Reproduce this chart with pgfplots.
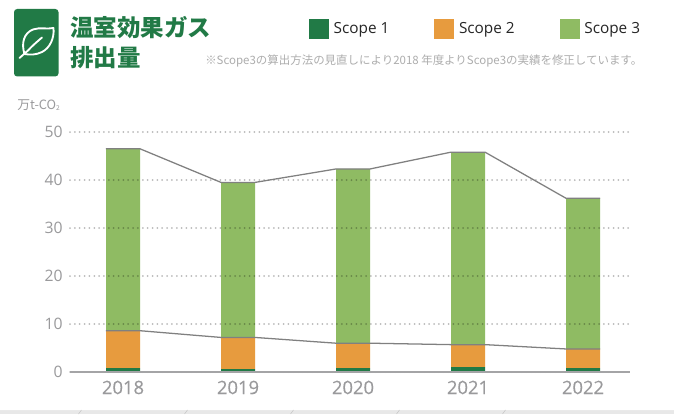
\documentclass[border=0pt]{standalone}
\usepackage{pgfplots}
\pgfplotsset{compat=1.18}
\usepackage{fontspec}
\setmainfont{Open Sans}
\newfontfamily\jp{Noto Sans CJK JP}
\newfontfamily\semi[FakeBold=0.35]{Open Sans}
\definecolor{sone}{HTML}{217A46}
\definecolor{stwo}{HTML}{E79B3E}
\definecolor{sthree}{HTML}{8FBB63}
\definecolor{lab}{HTML}{9A9A9C}
\definecolor{conn}{HTML}{808080}
\pgfplotstableread{
x s1 s2 s3
0 0.8 7.8 37.9
1 0.6 6.6 32.3
2 0.8 5.2 36.3
3 1.0 4.7 40.1
4 0.8 4.0 31.4
}\stacktable
\begin{document}
\begin{tikzpicture}
\begin{scope}[x=0.75pt,y=-0.75pt,shift={(0,310.5pt)}]
\useasboundingbox (0,0) rectangle (674,414);
\fill[white] (0,0) rectangle (674,414);
\fill[black!9] (0,408) rectangle (674,414);
\fill[white,rounded corners=3pt] (-10,-10) rectangle (684,410);
\foreach \t in {80,186,292,398,504} \draw[black!22,line width=0.4pt] (\t-1.5,414)--(\t+1.5,410);
\fill[sone,rounded corners=2.4pt] (14,9) rectangle (58.5,76.5);
\draw[white,line width=1.4pt,line cap=round,line join=round]
  (24.5,54) .. controls (21,43) and (24,33) .. (33,29.5) .. controls (40,27) and (47,29.5) .. (53.5,28)
  .. controls (54.5,38) and (50,48) .. (42,52) .. controls (36,55) and (30,55) .. (24.5,54) -- cycle;
\draw[white,line width=1.4pt,line cap=round] (19.5,58) -- (28,50.5) .. controls (33,45) and (38,41) .. (42,37.5);
\node[anchor=west,inner sep=0pt,text=sone,font=\jp\bfseries\fontsize{17.6pt}{20pt}\selectfont] at (70,27.5) {温室効果ガス};
\node[anchor=west,inner sep=0pt,text=sone,font=\jp\bfseries\fontsize{17.6pt}{20pt}\selectfont] at (70,57.5) {排出量};
\node[anchor=west,inner sep=0pt,text=black!32,font=\jp\fontsize{8.6pt}{10pt}\selectfont] at (205,61) {※Scope3の算出方法の見直しにより2018 年度よりScope3の実績を修正しています。};
\node[anchor=west,inner sep=0pt,text=lab,font=\jp\fontsize{9.6pt}{10pt}\selectfont] at (17,105) {万t-CO\raisebox{-0.5pt}{\fontsize{5pt}{6pt}\selectfont 2}};
\end{scope}
\begin{axis}[
  at={(52.5pt,31.5pt)}, anchor=south west,
  scale only axis, width=420pt, height=180pt,
  xmin=-0.4609, xmax=4.4087, ymin=0, ymax=50,
  ybar stacked, bar width=25.5pt,
  axis y line=none, axis x line*=bottom,
  x axis line style={draw=none},
  xtick=data, xticklabels={2018,2019,2020,2021,2022},
  ytick=\empty,
  major tick length=0pt,
  x tick label style={text=lab,font=\semi\fontsize{13.8pt}{16pt}\selectfont,yshift=-3pt},
  /pgf/number format/assume math mode=true,
  clip=false,
  legend columns=3,
  legend cell align=left,
  legend image code/.code={\fill[#1,draw=none] (0pt,-7.5pt) rectangle (15pt,7.5pt);},
  legend style={draw=none,fill=none,at={(179.25pt,257.25pt)},anchor=west,inner sep=0pt,outer sep=0pt,
    font=\fontsize{11.5pt}{14pt}\selectfont,text=black!85,
    /tikz/every even column/.style={column sep=2pt},
    /tikz/every odd column/.style={column sep=0pt}},
]
\addplot[fill=sone,draw=none] table[x=x,y=s1]{\stacktable};
\addlegendentry{\makebox[73pt][l]{\hspace{1.5pt}Scope 1}}
\addplot[fill=stwo,draw=none] table[x=x,y=s2]{\stacktable};
\addlegendentry{\makebox[73pt][l]{\hspace{1.5pt}Scope 2}}
\addplot[fill=sthree,draw=none] table[x=x,y=s3]{\stacktable};
\addlegendentry{\hspace{1.5pt}Scope 3}
\end{axis}
\begin{axis}[
  at={(52.5pt,31.5pt)}, anchor=south west,
  scale only axis, width=420pt, height=180pt,
  xmin=-0.4609, xmax=4.4087, ymin=0, ymax=50,
  axis y line=left, axis x line=bottom,
  y axis line style={draw=none},
  x axis line style={draw=lab!90,line width=1.4pt,-},
  xtick=\empty,
  ytick={0,10,20,30,40,50},
  major tick length=0pt,
  ymajorgrids,
  major grid style={black,opacity=0.27,line width=1.5pt,line cap=round,dash pattern=on 0pt off 3.64pt},
  y tick label style={text=lab,font=\fontsize{11.8pt}{14pt}\selectfont,xshift=-2pt},
  /pgf/number format/assume math mode=true,
]
\addplot[conn,line width=0.95pt,forget plot] coordinates {(-0.148,46.5)(0.148,46.5)(0.852,39.5)(1.148,39.5)(1.852,42.3)(2.148,42.3)(2.852,45.8)(3.148,45.8)(3.852,36.2)(4.148,36.2)};
\addplot[conn,line width=0.95pt,forget plot] coordinates {(-0.148,8.6)(0.148,8.6)(0.852,7.2)(1.148,7.2)(1.852,6.0)(2.148,6.0)(2.852,5.7)(3.148,5.7)(3.852,4.8)(4.148,4.8)};
\end{axis}
\end{tikzpicture}
\end{document}
